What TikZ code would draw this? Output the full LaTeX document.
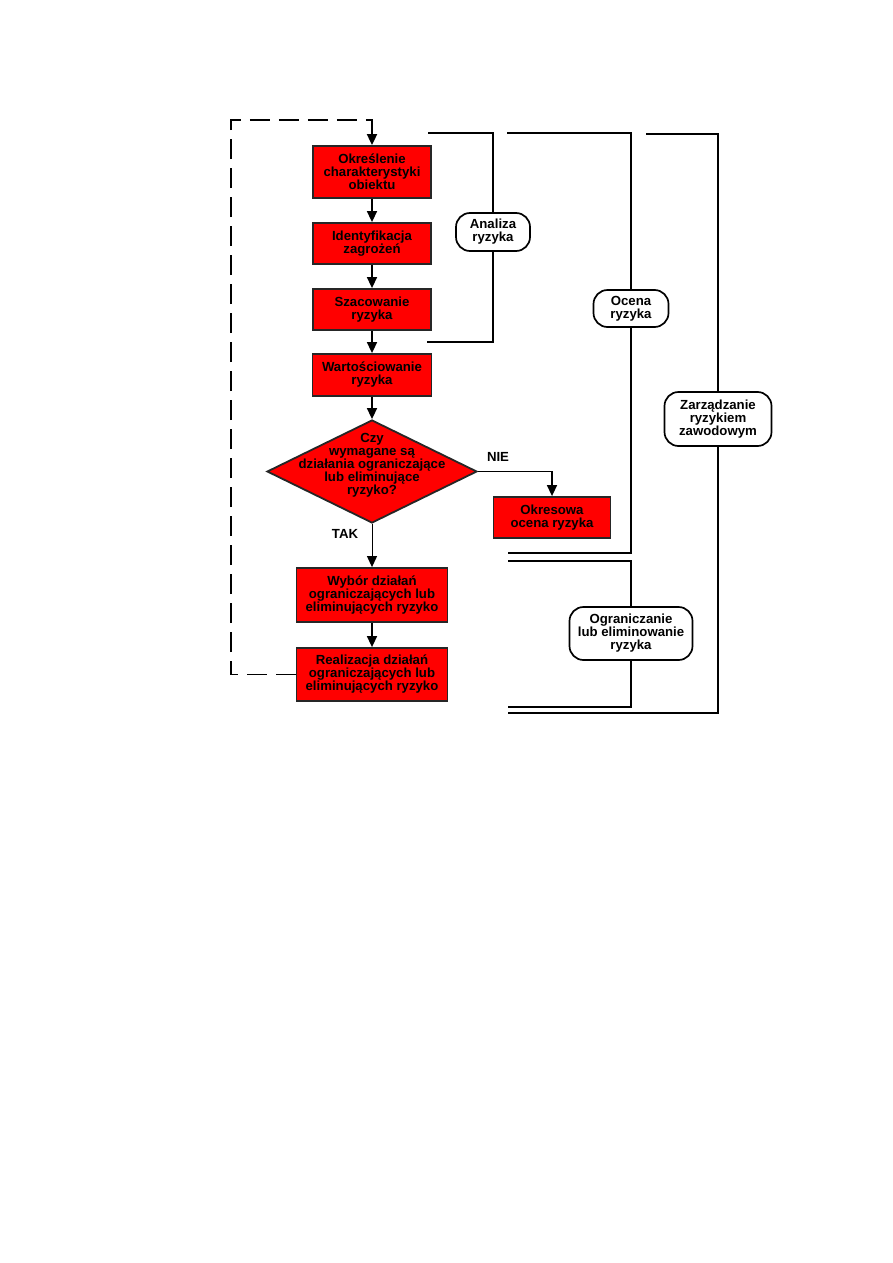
\documentclass[tikz,border=0pt]{standalone}
\usepackage{fontspec}
\setmainfont{Liberation Sans}
\usetikzlibrary{arrows.meta,shapes.geometric}
\begin{document}
\begin{tikzpicture}[x=1pt,y=-1pt,
  every node/.style={font=\fontsize{13.2}{13}\selectfont\bfseries, align=center, inner sep=1pt},
  redbox/.style={draw=black!85, line width=1.8pt, fill=red},
  phase/.style={draw=black, fill=white, line width=1.7pt, rounded corners=14pt},
  flow/.style={line width=1.5pt, -{Triangle[length=11pt,width=10pt]}},
  brk/.style={line width=1.7pt},
  dashline/.style={line width=1.8pt, dash pattern=on 20pt off 9pt, -{Triangle[length=11pt,width=10pt]}}]
\useasboundingbox (0,0) rectangle (893,1263);

% main flow
\node[redbox, minimum width=118pt, minimum height=52pt] (b1) at (372,172) {Określenie\\charakterystyki\\obiektu};
\node[redbox, minimum width=118pt, minimum height=41pt] (b2) at (372,243.5) {Identyfikacja\\zagrożeń};
\node[redbox, minimum width=118pt, minimum height=41pt] (b3) at (372,309.5) {Szacowanie\\ryzyka};
\node[redbox, minimum width=119pt, minimum height=42pt] (b4) at (372,375) {Wartościowanie\\ryzyka};
\node[diamond, draw=black!85, line width=1.8pt, fill=red, minimum width=210pt, minimum height=103pt, inner sep=0pt] (dec) at (372,471.5) {};
\node (dectext) at ([yshift=6pt]dec.center) {Czy\\wymagane są\\działania ograniczające\\lub eliminujące\\ryzyko?};
\node[redbox, minimum width=117pt, minimum height=41pt] (ok) at (552,517.5) {Okresowa\\ocena ryzyka};
\node[redbox, minimum width=151pt, minimum height=54pt] (wy) at (372,595) {Wybór działań\\ograniczających lub\\eliminujących ryzyko};
\node[redbox, minimum width=151pt, minimum height=53pt] (re) at (372,674.5) {Realizacja działań\\ograniczających lub\\eliminujących ryzyko};

\draw[flow] (b1) -- (b2);
\draw[flow] (b2) -- (b3);
\draw[flow] (b3) -- (b4);
\draw[flow] (b4) -- (dec);
\draw[flow, line width=1pt] (dec.south) -- (wy.north);
\draw[flow] (wy) -- (re);
\draw[flow] (dec.east) -| (ok.north);
\node (nie) at (498,457) {NIE};
\node (tak) at (345,534) {TAK};

% dashed feedback loop
\coordinate (dl) at (231,674.5);
\coordinate (dt) at (231,120);
\draw[dashline] (re.west) -- (dl) -- (dt) -| (b1.north);

% Analiza ryzyka
\coordinate (aT) at (428,133);
\coordinate (aB) at (427,342);
\node[phase, minimum width=74pt, minimum height=38pt] (an) at (493,232) {Analiza\\ryzyka};
\draw[brk] (aT) -| (an.north);
\draw[brk] (aB) -| (an.south);

% Ocena ryzyka
\coordinate (oT) at (507,133);
\coordinate (oB) at (508,553);
\node[phase, minimum width=75pt, minimum height=37pt] (oc) at (631,308.5) {Ocena\\ryzyka};
\draw[brk] (oT) -| (oc.north);
\draw[brk] (oB) -| (oc.south);

% Ograniczanie lub eliminowanie ryzyka
\coordinate (gT) at (508,561);
\coordinate (gB) at (508,707);
\node[phase, minimum width=123pt, minimum height=53pt] (og) at (631,633.5) {Ograniczanie\\lub eliminowanie\\ryzyka};
\draw[brk] (gT) -| (og.north);
\draw[brk] (gB) -| (og.south);

% Zarzadzanie ryzykiem zawodowym
\coordinate (zT) at (646,134);
\coordinate (zB) at (508,713);
\node[phase, minimum width=107pt, minimum height=54pt] (za) at (718,419) {Zarządzanie\\ryzykiem\\zawodowym};
\draw[brk] (zT) -| (za.north);
\draw[brk] (zB) -| (za.south);
\end{tikzpicture}
\end{document}
